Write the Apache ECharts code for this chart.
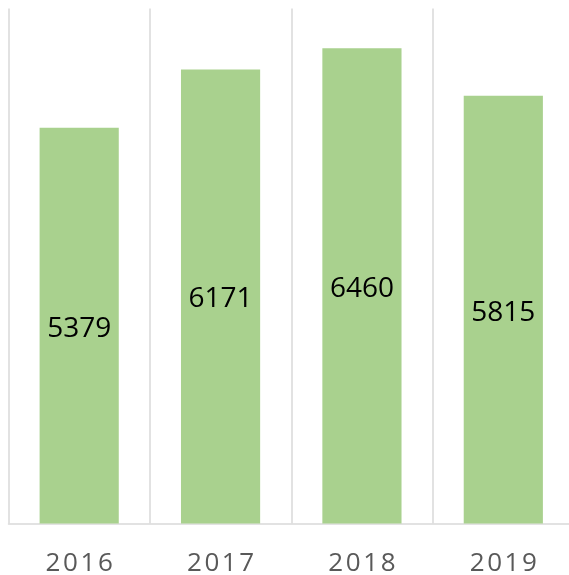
<!DOCTYPE html>
<html>
<head>
<meta charset="utf-8">
<script src="https://cdn.jsdelivr.net/npm/echarts@6/dist/echarts.min.js"></script>
<style>
  html, body { margin: 0; padding: 0; background: #fff; }
  #chart { width: 569px; height: 575px; }
</style>
</head>
<body>
<div id="chart"></div>
<script>
const years = ['2016', '2017', '2018', '2019'];
const counts = [5379, 6171, 6460, 5815];

const chart = echarts.init(document.getElementById('chart'));

// spread the year digits a little, like the original letter-spaced labels
const spaced = s => s.split('').join('\u200A');

const option = {
  backgroundColor: '#ffffff',
  animation: false,
  grid: { left: 8.5, right: -5, top: 8.5, bottom: 51.5, outerBoundsMode: 'none' },
  xAxis: {
    type: 'category',
    data: years,
    axisLine: { lineStyle: { color: '#d9d9d9', width: 1.5 } },
    axisTick: { show: false },
    splitLine: { show: true, lineStyle: { color: '#d9d9d9', width: 1.5 } },
    axisLabel: {
      color: '#595959',
      fontSize: 26,
      fontFamily: '"Open Sans", sans-serif',
      margin: 27,
      formatter: v => spaced(v)
    }
  },
  yAxis: {
    type: 'value',
    min: 0,
    max: 7000,
    show: false,
    splitLine: { show: false }
  },
  series: [{
    type: 'bar',
    data: counts,
    barWidth: '56%',
    itemStyle: { color: '#a9d18e' },
    label: {
      show: true,
      position: 'inside',
      offset: [0, 3],
      color: '#000',
      fontSize: 28,
      fontFamily: '"Open Sans", sans-serif'
    }
  }]
};

chart.setOption(option);
</script>
</body>
</html>
